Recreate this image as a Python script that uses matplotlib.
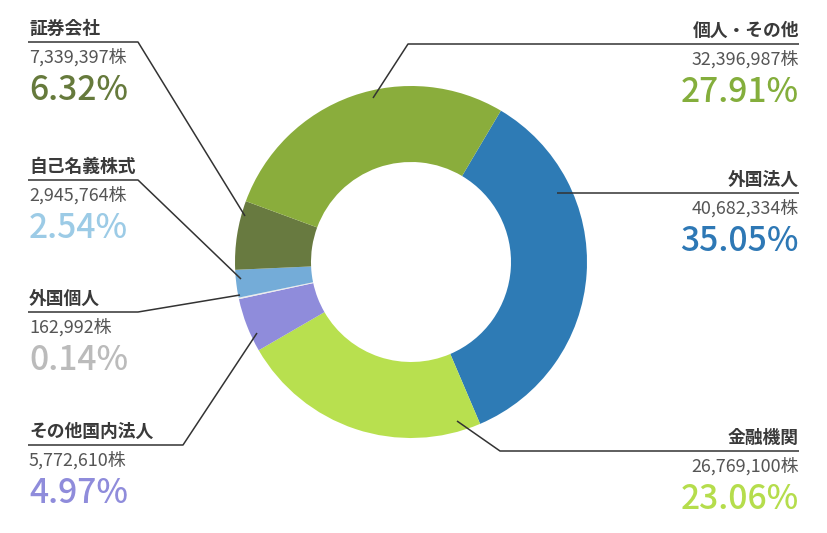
import matplotlib
matplotlib.use("Agg")
import matplotlib.pyplot as plt

plt.rcParams["font.family"] = ["Noto Sans CJK JP", "DejaVu Sans"]

# data, clockwise from the top-right slice
names = ["外国法人", "金融機関", "その他国内法人", "外国個人", "自己名義株式", "証券会社", "個人・その他"]
shares = [40682334, 26769100, 5772610, 162992, 2945764, 7339397, 32396987]
percents = ["35.05%", "23.06%", "4.97%", "0.14%", "2.54%", "6.32%", "27.91%"]
slice_colors = ["#2e7bb5", "#b8e04f", "#8f8cdb", "#ececec", "#74acd8", "#687a40", "#8aad3c"]
pct_colors = ["#2e78b5", "#b5dd4c", "#8f8cdb", "#bbbbbb", "#9ccbe6", "#667a3c", "#84ae3c"]

# label layout (pixel coords, y from top): side, underline y, elbow x, anchor on ring
sides = ["right", "right", "left", "left", "left", "left", "right"]
underline_y = [193, 451, 445, 312, 180, 42, 44]
elbow_x = [557, 500, 183, 138, 138, 138, 408]
anchors = [(557, 193), (457, 421), (257, 333), (240, 295), (241, 279), (245, 216), (373, 98)]

W, H = 827, 533
LEFT_X, RIGHT_X = 29, 799


def fy(y):
    return H - y


fig = plt.figure(figsize=(8.27, 5.33), dpi=100)
ax = fig.add_axes([0, 0, 1, 1])

ax.pie(shares, colors=slice_colors, startangle=59.3, counterclock=False,
       radius=176, center=(411, fy(262)),
       wedgeprops=dict(width=76, linewidth=0))

ax.set_xlim(0, W)
ax.set_ylim(0, H)
ax.set_aspect("equal")
ax.axis("off")

for i, name in enumerate(names):
    ul = underline_y[i]
    ax_, ay_ = anchors[i]
    if sides[i] == "left":
        x, ha = LEFT_X, "left"
        line_x = [LEFT_X - 1, elbow_x[i], ax_]
    else:
        x, ha = RIGHT_X, "right"
        line_x = [RIGHT_X, elbow_x[i], ax_]
    line_y = [fy(ul), fy(ul), fy(ay_)]
    ax.plot(line_x, line_y, color="#333333", lw=1.1, solid_capstyle="butt", zorder=5)

    ax.text(x, fy(ul - 8), name, ha=ha, va="baseline", fontsize=12.8,
            fontweight="bold", color="#3a3a3a")
    ax.text(x, fy(ul + 21), f"{shares[i]:,}株", ha=ha, va="baseline",
            fontsize=12.9, color="#555555")
    ax.text(x, fy(ul + 58), percents[i], ha=ha, va="baseline", fontsize=24.2,
            fontweight="medium", color=pct_colors[i])

fig.savefig("out.png", dpi=100)
